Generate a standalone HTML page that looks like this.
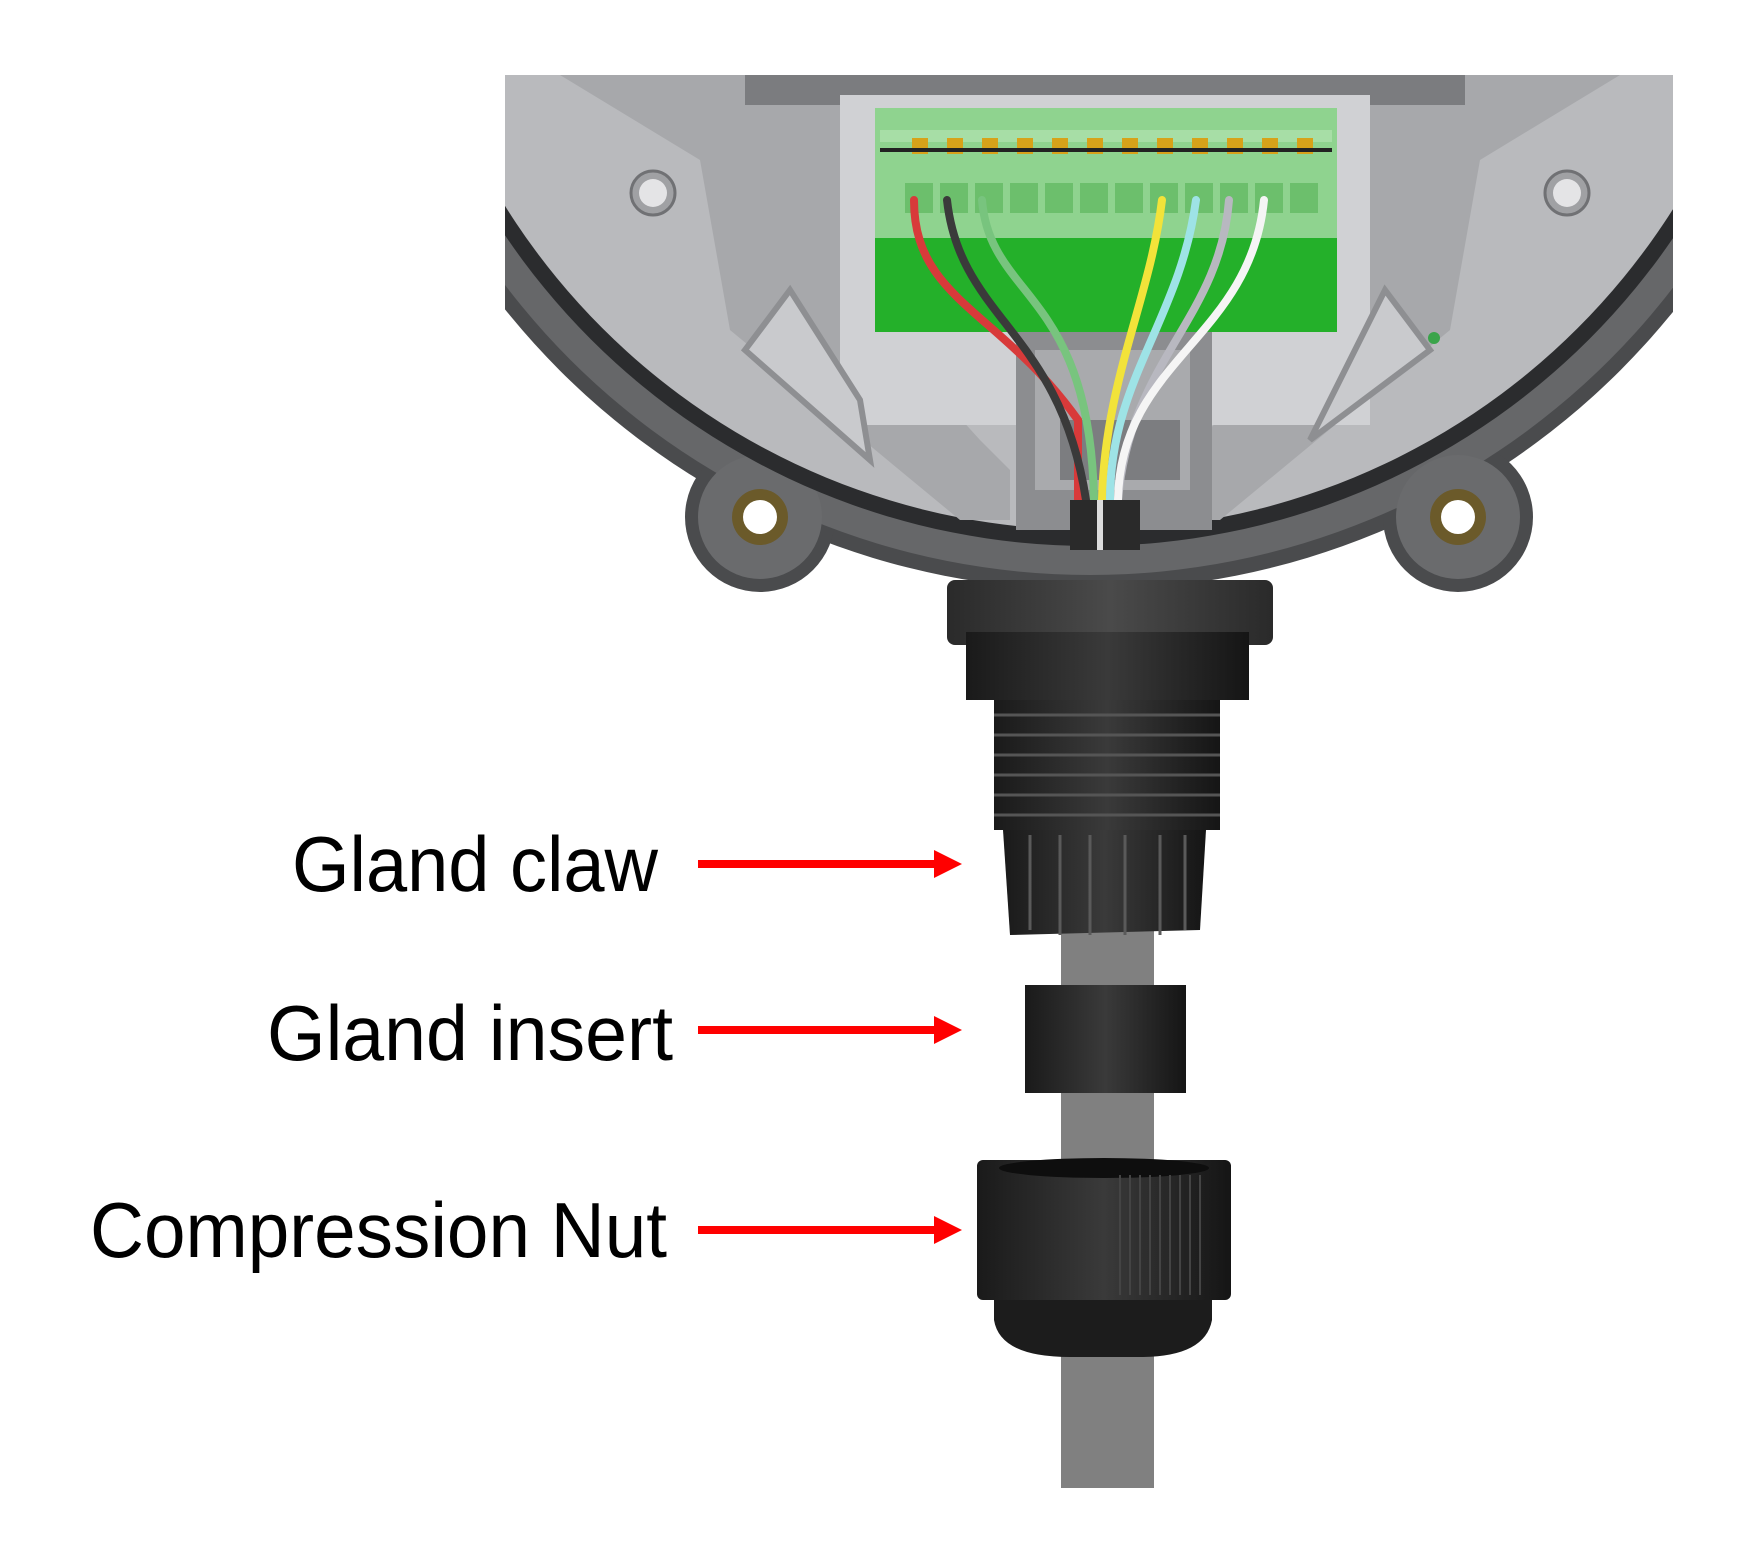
<!DOCTYPE html>
<html><head><meta charset="utf-8"><style>
html,body{margin:0;padding:0;background:#fff;}
svg{display:block}
text{font-family:"Liberation Sans",sans-serif;fill:#000}
</style></head><body>
<svg width="1743" height="1561" viewBox="0 0 1743 1561" xmlns="http://www.w3.org/2000/svg">
<defs>
<clipPath id="top"><rect x="505" y="75" width="1168" height="600"/></clipPath>
<linearGradient id="blk" x1="0" x2="1" y1="0" y2="0">
<stop offset="0" stop-color="#1a1a1a"/><stop offset="0.5" stop-color="#3a3a3a"/><stop offset="1" stop-color="#151515"/></linearGradient>
<linearGradient id="gb" x1="0" x2="1"><stop offset="0" stop-color="#2a2a2a"/><stop offset=".5" stop-color="#4a4a4a"/><stop offset="1" stop-color="#2a2a2a"/></linearGradient>
</defs>

<!-- housing flange -->
<g clip-path="url(#top)">
<circle cx="1090" cy="-160" r="750" fill="#4a4b4d"/>
<circle cx="760" cy="517" r="75" fill="#4a4b4d"/>
<circle cx="1458" cy="517" r="75" fill="#4a4b4d"/>
<circle cx="1090" cy="-160" r="735" fill="#666769"/>
<circle cx="760" cy="517" r="62" fill="#6a6b6d"/>
<circle cx="1458" cy="517" r="62" fill="#6a6b6d"/>
<circle cx="1090" cy="-160" r="706" fill="#2b2c2e"/>
<circle cx="1090" cy="-160" r="690" fill="#b9babd"/>
<!-- inner panels -->
<path d="M560 75 L700 160 L730 330 L960 520 L1010 520 L1010 470 L980 440 L880 330 L860 75 Z" fill="#a7a8ab"/>
<path d="M1620 75 L1480 160 L1450 330 L1220 520 L1170 520 L1170 470 L1200 440 L1300 330 L1320 75 Z" fill="#a7a8ab"/>
<rect x="745" y="75" width="720" height="30" fill="#7b7c7f"/>
<rect x="840" y="95" width="530" height="330" fill="#d0d1d4"/>
<!-- center channel -->
<rect x="1016" y="330" width="196" height="200" fill="#8c8d90"/>
<rect x="1035" y="350" width="155" height="140" fill="#a9aaad"/>
<rect x="1060" y="420" width="120" height="60" fill="#7c7d80"/>
<!-- triangles -->
<path d="M745 350 L790 290 L860 400 L870 460 Z" fill="#c9cacd" stroke="#8e8f92" stroke-width="6"/>
<path d="M1430 350 L1385 290 L1330 400 L1310 440 Z" fill="#c9cacd" stroke="#8e8f92" stroke-width="6"/>
<circ/>
<circle cx="1434" cy="338" r="6" fill="#3aa44a"/>
<!-- screws -->
<circle cx="653" cy="193" r="22" fill="#a0a1a4" stroke="#707174" stroke-width="3"/>
<circle cx="653" cy="193" r="14" fill="#e4e4e6"/>
<circle cx="1567" cy="193" r="22" fill="#a0a1a4" stroke="#707174" stroke-width="3"/>
<circle cx="1567" cy="193" r="14" fill="#e4e4e6"/>
</g>
<!-- holes -->
<circle cx="760" cy="517" r="28" fill="#6b5a2a"/>
<circle cx="760" cy="517" r="17" fill="#fff"/>
<circle cx="1458" cy="517" r="28" fill="#6b5a2a"/>
<circle cx="1458" cy="517" r="17" fill="#fff"/>

<!-- terminal block -->
<rect x="875" y="200" width="462" height="132" fill="#24b02a"/>
<rect x="875" y="108" width="462" height="130" fill="#8fd38f"/>
<rect x="880" y="130" width="452" height="12" fill="#a7dea6"/>
<g fill="#d7a21a">
<rect x="912" y="138" width="16" height="16"/><rect x="947" y="138" width="16" height="16"/><rect x="982" y="138" width="16" height="16"/><rect x="1017" y="138" width="16" height="16"/><rect x="1052" y="138" width="16" height="16"/><rect x="1087" y="138" width="16" height="16"/><rect x="1122" y="138" width="16" height="16"/><rect x="1157" y="138" width="16" height="16"/><rect x="1192" y="138" width="16" height="16"/><rect x="1227" y="138" width="16" height="16"/><rect x="1262" y="138" width="16" height="16"/><rect x="1297" y="138" width="16" height="16"/>
</g>
<rect x="880" y="148" width="452" height="4" fill="#222"/>
<g fill="#6cbf6c">
<rect x="905" y="183" width="28" height="30"/><rect x="940" y="183" width="28" height="30"/><rect x="975" y="183" width="28" height="30"/><rect x="1010" y="183" width="28" height="30"/><rect x="1045" y="183" width="28" height="30"/><rect x="1080" y="183" width="28" height="30"/><rect x="1115" y="183" width="28" height="30"/><rect x="1150" y="183" width="28" height="30"/><rect x="1185" y="183" width="28" height="30"/><rect x="1220" y="183" width="28" height="30"/><rect x="1255" y="183" width="28" height="30"/><rect x="1290" y="183" width="28" height="30"/>
</g>

<!-- wires -->
<g fill="none" stroke-width="8" stroke-linecap="round">
<path d="M914 200 C914 300 1000 310 1078 420 L1078 500" stroke="#d83a3a"/>
<path d="M947 200 C960 320 1060 330 1086 500" stroke="#3a3a3a"/>
<path d="M982 200 C990 300 1090 290 1094 500" stroke="#78c47e"/>
<path d="M1162 200 C1150 300 1105 380 1102 500" stroke="#f2e33a"/>
<path d="M1196 200 C1180 320 1110 380 1110 500" stroke="#9ee3e6"/>
<path d="M1229 200 C1220 320 1130 360 1118 500" stroke="#b8b8c0"/>
<path d="M1264 200 C1250 340 1120 360 1118 500" stroke="#f5f5f5"/>
</g>
<rect x="1070" y="500" width="70" height="50" fill="#2a2a2a"/>
<rect x="1097" y="500" width="6" height="50" fill="#ddd"/>

<!-- gland base -->
<rect x="947" y="580" width="326" height="65" rx="8" fill="url(#gb)"/>
<rect x="966" y="632" width="283" height="68" fill="url(#blk)"/>
<rect x="994" y="700" width="226" height="130" fill="url(#blk)"/>
<g stroke="#555" stroke-width="3">
<line x1="994" y1="715" x2="1220" y2="715"/><line x1="994" y1="735" x2="1220" y2="735"/><line x1="994" y1="755" x2="1220" y2="755"/><line x1="994" y1="775" x2="1220" y2="775"/><line x1="994" y1="795" x2="1220" y2="795"/><line x1="994" y1="815" x2="1220" y2="815"/>
</g>
<!-- cable -->
<rect x="1061" y="930" width="93" height="558" fill="#808080"/>
<!-- claw -->
<path d="M1003 830 L1206 830 L1200 930 L1010 935 Z" fill="url(#blk)"/>
<g stroke="#5a5a5a" stroke-width="3">
<line x1="1030" y1="835" x2="1030" y2="930"/><line x1="1060" y1="835" x2="1060" y2="935"/><line x1="1090" y1="835" x2="1090" y2="935"/><line x1="1125" y1="835" x2="1125" y2="935"/><line x1="1160" y1="835" x2="1160" y2="935"/><line x1="1185" y1="835" x2="1185" y2="930"/>
</g>
<!-- insert -->
<rect x="1025" y="985" width="161" height="108" fill="url(#blk)"/>
<!-- nut -->
<rect x="977" y="1160" width="254" height="140" rx="6" fill="url(#blk)"/>
<ellipse cx="1104" cy="1168" rx="105" ry="10" fill="#0e0e0e"/>
<g stroke="#444" stroke-width="2">
<line x1="1120" y1="1175" x2="1120" y2="1295"/><line x1="1130" y1="1175" x2="1130" y2="1295"/><line x1="1140" y1="1175" x2="1140" y2="1295"/><line x1="1150" y1="1175" x2="1150" y2="1295"/><line x1="1160" y1="1175" x2="1160" y2="1295"/><line x1="1170" y1="1175" x2="1170" y2="1295"/><line x1="1180" y1="1175" x2="1180" y2="1295"/><line x1="1190" y1="1175" x2="1190" y2="1295"/><line x1="1200" y1="1175" x2="1200" y2="1295"/>
</g>
<path d="M994 1300 L1212 1300 L1212 1320 Q1205 1357 1140 1357 L1070 1357 Q1000 1357 994 1320 Z" fill="#1c1c1c"/>

<!-- labels -->
<text x="292" y="891" font-size="78" textLength="366" lengthAdjust="spacingAndGlyphs">Gland claw</text>
<text x="267" y="1060" font-size="78" textLength="406" lengthAdjust="spacingAndGlyphs">Gland insert</text>
<text x="90" y="1257" font-size="78" textLength="577" lengthAdjust="spacingAndGlyphs">Compression Nut</text>

<!-- arrows -->
<g fill="#ff0000">
<rect x="698" y="860" width="240" height="8"/><path d="M934 850 L962 864 L934 878 Z"/>
<rect x="698" y="1026" width="240" height="8"/><path d="M934 1016 L962 1030 L934 1044 Z"/>
<rect x="698" y="1226" width="240" height="8"/><path d="M934 1216 L962 1230 L934 1244 Z"/>
</g>
</svg>
</body></html>
